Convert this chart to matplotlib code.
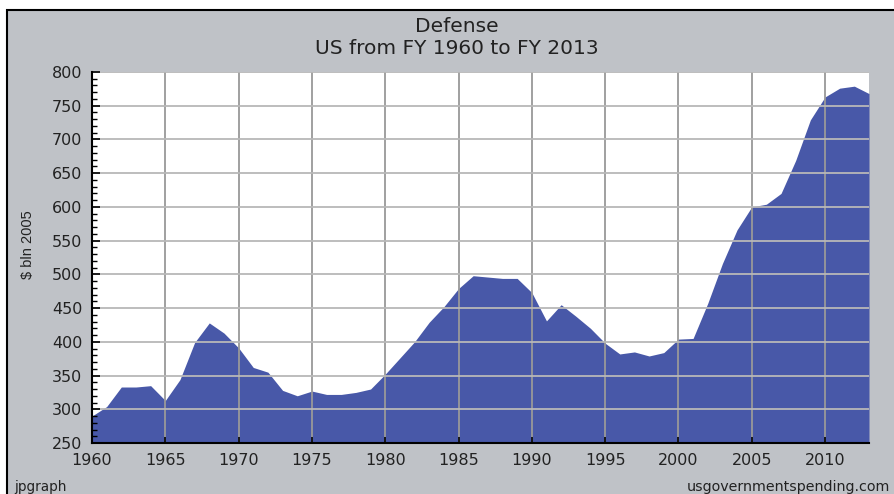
import matplotlib
matplotlib.use("Agg")
import matplotlib.pyplot as plt
from matplotlib.patches import Rectangle
from matplotlib.ticker import MultipleLocator

years = list(range(1960, 2014))
values = [290, 304, 333, 333, 335, 313, 344, 399, 428, 413,
          391, 362, 355, 328, 320, 327, 322, 322, 325, 330,
          352, 376, 400, 429, 452, 479, 498, 496, 494, 494,
          473, 431, 455, 438, 420, 398, 382, 385, 379, 384,
          404, 405, 457, 516, 566, 600, 604, 620, 669, 729,
          763, 776, 779, 768]

title_lines = ["Defense", "US from FY 1960 to FY 2013"]
ylabel = "$ bln 2005"
footer_left = "jpgraph"
footer_right = "usgovernmentspending.com"

W, H = 894, 494
fig = plt.figure(figsize=(W / 100, H / 100), dpi=100)
fig.patch.set_facecolor("white")

# outer frame (gray panel with black border, cropped on right/bottom)
fig.patches.append(Rectangle((7 / W, -0.05), 1.1, (H - 10) / H + 0.05,
                             transform=fig.transFigure, facecolor="#bfc2c7",
                             edgecolor="black", linewidth=1.5, zorder=-5))

ax = fig.add_axes([92 / W, 51 / H, 777 / W, 371 / H])
ax.set_zorder(2)
ax.set_facecolor("white")
ax.fill_between(years, values, 250, color="#4858a8", linewidth=0, zorder=1)
ax.set_xlim(1960, 2013)
ax.set_ylim(250, 800)

ax.xaxis.set_major_locator(MultipleLocator(5))
ax.yaxis.set_major_locator(MultipleLocator(50))
ax.yaxis.set_minor_locator(MultipleLocator(10))

ax.set_axisbelow(False)
ax.grid(axis="x", which="major", color="#999999", linewidth=1.3)
ax.grid(axis="y", which="major", color="#b8b8b8", linewidth=1.3)

for s in ["top", "right"]:
    ax.spines[s].set_visible(False)
for s in ["left", "bottom"]:
    ax.spines[s].set_color("black")
    ax.spines[s].set_linewidth(1.5)
    ax.spines[s].set_zorder(5)

ax.tick_params(axis="y", which="major", direction="in", length=6, width=1.2,
               pad=7, labelsize=11.5, colors="black", labelcolor="#222222")
ax.tick_params(axis="y", which="minor", direction="in", length=3.5, width=1.0,
               colors="black")
ax.tick_params(axis="x", which="major", direction="in", length=4.5, width=1.2,
               pad=7, labelsize=11.5, colors="black", labelcolor="#222222")
for lab in ax.get_xticklabels() + ax.get_yticklabels():
    lab.set_family("DejaVu Sans")

fig.text(28 / W, 1 - 245 / H, ylabel, rotation=90, ha="center", va="center",
         fontsize=10.5, family=["Liberation Sans", "DejaVu Sans"],
         color="#222222")

fig.text(457 / W, 1 - 26 / H, title_lines[0], ha="center", va="center",
         fontsize=14.5, family="DejaVu Sans", color="#222222")
fig.text(457 / W, 1 - 49 / H, title_lines[1], ha="center", va="center",
         fontsize=14.5, family="DejaVu Sans", color="#222222")

fig.text(14 / W, 1 - 487 / H, footer_left, ha="left", va="center",
         fontsize=9.8, family="DejaVu Sans", color="#222222")
fig.text(890 / W, 1 - 487 / H, footer_right, ha="right", va="center",
         fontsize=10.3, family="DejaVu Sans", color="#222222")

fig.savefig("out.png", dpi=100)
